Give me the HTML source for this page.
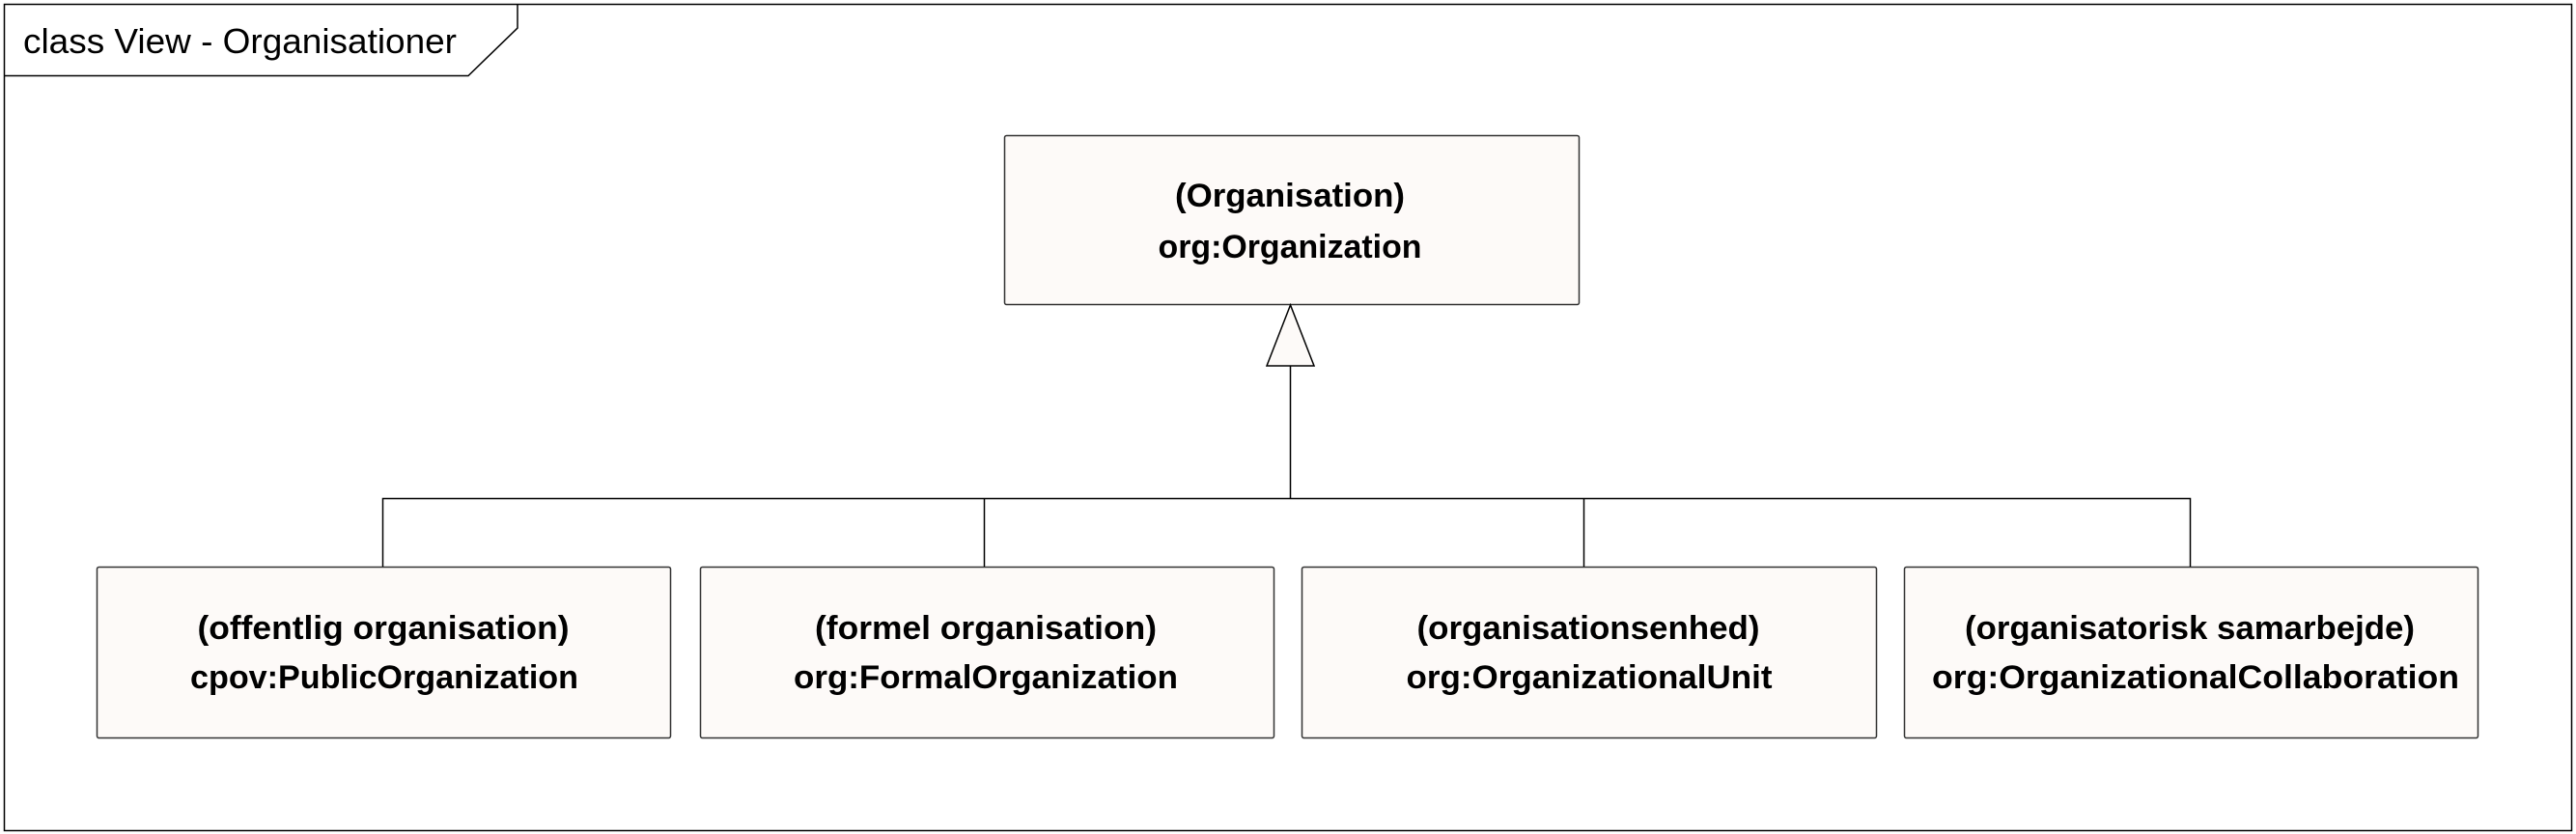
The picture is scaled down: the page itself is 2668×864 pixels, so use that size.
<!DOCTYPE html>
<html><head><meta charset="utf-8"><style>html,body{margin:0;padding:0;background:#fff}svg{display:block}</style></head>
<body>
<svg width="2668" height="864" viewBox="0 0 2668 864" xmlns="http://www.w3.org/2000/svg" font-family="'Liberation Sans', sans-serif" font-weight="bold" font-size="34">
<rect x="4.5" y="4.5" width="2659" height="856" fill="#fff" stroke="#000" stroke-width="1.5"/>
<polyline points="4.5,78.5 485,78.5 536,29 536,4.5" fill="none" stroke="#000" stroke-width="1.5"/>
<text x="24" y="55" textLength="449" lengthAdjust="spacingAndGlyphs" font-weight="normal" font-size="36">class View - Organisationer</text>

<g fill="#fdfaf8" stroke="#333" stroke-width="1.5">
<rect x="1040.5" y="140.5" width="595" height="175" rx="2"/>
<rect x="100.5" y="587.5" width="594" height="177" rx="2"/>
<rect x="725.5" y="587.5" width="594" height="177" rx="2"/>
<rect x="1348.5" y="587.5" width="595" height="177" rx="2"/>
<rect x="1972.5" y="587.5" width="594" height="177" rx="2"/>
</g>
<g fill="none" stroke="#000" stroke-width="1.5">
<polyline points="1336.5,379 1336.5,516.5"/>
<polyline points="396.5,587 396.5,516.5 2268.5,516.5 2268.5,587"/>
<line x1="1019.5" y1="516.5" x2="1019.5" y2="587"/>
<line x1="1640.5" y1="516.5" x2="1640.5" y2="587"/>
</g>
<polygon points="1336.5,316 1312,379 1361,379" fill="#fdfaf8" stroke="#000" stroke-width="1.5"/>

<g fill="#000" text-anchor="middle">
<text x="1336" y="214" textLength="238" lengthAdjust="spacingAndGlyphs">(Organisation)</text>
<text x="1336" y="267" textLength="273" lengthAdjust="spacingAndGlyphs">org:Organization</text>
<text x="397" y="662" textLength="385" lengthAdjust="spacingAndGlyphs">(offentlig organisation)</text>
<text x="398" y="713" textLength="402" lengthAdjust="spacingAndGlyphs">cpov:PublicOrganization</text>
<text x="1021" y="662" textLength="354" lengthAdjust="spacingAndGlyphs">(formel organisation)</text>
<text x="1021" y="713" textLength="398" lengthAdjust="spacingAndGlyphs">org:FormalOrganization</text>
<text x="1645" y="662" textLength="355" lengthAdjust="spacingAndGlyphs">(organisationsenhed)</text>
<text x="1646" y="713" textLength="379" lengthAdjust="spacingAndGlyphs">org:OrganizationalUnit</text>
<text x="2268" y="662" textLength="466" lengthAdjust="spacingAndGlyphs">(organisatorisk samarbejde)</text>
<text x="2274" y="713" textLength="546" lengthAdjust="spacingAndGlyphs">org:OrganizationalCollaboration</text>
</g>
</svg>
</body></html>
